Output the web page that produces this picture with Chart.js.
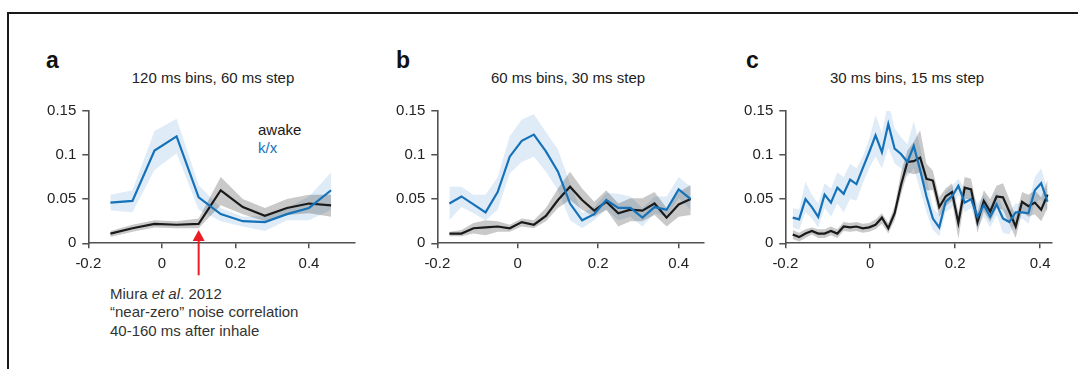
<!DOCTYPE html>
<html>
<head>
<meta charset="utf-8">
<script src="https://cdn.jsdelivr.net/npm/chart.js@4"></script>
<style>
  body { margin: 0; width: 1078px; height: 369px; background: #fff; position: relative; overflow: hidden;
         font-family: "Liberation Sans", Arial, sans-serif; color: #222; }
  .frame { position: absolute; left: 7px; top: 12px; width: 1080px; height: 370px;
           border-top: 2px solid #1a1a1a; border-left: 2px solid #1a1a1a; }
  canvas { position: absolute; top: 95px; }
  .txt { position: absolute; white-space: nowrap; font-size: 15px; line-height: 15px; }
  .letter { position: absolute; font-weight: bold; font-size: 23px; line-height: 23px; color: #111; }
  .ttl { position: absolute; width: 240px; text-align: center; font-size: 15px; line-height: 15px; top: 70px; }
  .note { position: absolute; left: 110px; top: 285px; font-size: 15px; line-height: 18.3px; color: #333; white-space: nowrap; }
</style>
</head>
<body>
<div class="frame"></div>

<div class="letter" style="left:46px; top:49px;">a</div>
<div class="letter" style="left:396px; top:49px;">b</div>
<div class="letter" style="left:746px; top:49px;">c</div>

<div class="ttl" style="left:93px;">120 ms bins, 60 ms step</div>
<div class="ttl" style="left:448px;">60 ms bins, 30 ms step</div>
<div class="ttl" style="left:787px;">30 ms bins, 15 ms step</div>

<div class="txt" style="left:258px; top:122px; color:#1a1a1a;">awake</div>
<div class="txt" style="left:258px; top:140px; color:#1572b9;">k/x</div>

<div class="note">Miura <i>et al</i>. 2012<br>“near-zero” noise correlation<br>40-160 ms after inhale</div>

<canvas id="chartA" width="345" height="200" style="left:20px"></canvas>
<canvas id="chartB" width="345" height="200" style="left:369px"></canvas>
<canvas id="chartC" width="345" height="200" style="left:716.7px"></canvas>

<script>
// axis ticks
const xTickVals = [-0.2, 0, 0.2, 0.4];
const yTickVals = [0, 0.05, 0.1, 0.15];

// a: 120 ms bins, 60 ms step
const timeA = [-0.14, -0.08, -0.02, 0.04, 0.10, 0.16, 0.22, 0.28, 0.34, 0.40, 0.46];
const kxA = [0.046, 0.048, 0.105, 0.121, 0.052, 0.033, 0.025, 0.024, 0.033, 0.040, 0.060];
const kxA_hi = [0.055, 0.060, 0.127, 0.141, 0.066, 0.040, 0.030, 0.031, 0.040, 0.053, 0.080];
const kxA_lo = [0.037, 0.035, 0.083, 0.102, 0.038, 0.025, 0.019, 0.014, 0.026, 0.026, 0.038];
const awakeA = [0.011, 0.017, 0.022, 0.021, 0.022, 0.060, 0.041, 0.031, 0.040, 0.045, 0.043];
const awakeA_hi = [0.014, 0.021, 0.026, 0.025, 0.028, 0.075, 0.050, 0.040, 0.050, 0.055, 0.055];
const awakeA_lo = [0.007, 0.013, 0.018, 0.017, 0.017, 0.043, 0.033, 0.025, 0.032, 0.034, 0.030];

// b: 60 ms bins, 30 ms step
const timeB = [-0.17, -0.14, -0.11, -0.08, -0.05, -0.02, 0.01, 0.04, 0.07, 0.10, 0.13,
               0.16, 0.19, 0.22, 0.25, 0.28, 0.31, 0.34, 0.37, 0.40, 0.43];
const kxB = [0.045, 0.053, 0.044, 0.035, 0.058, 0.098, 0.116, 0.123, 0.104, 0.081, 0.045,
             0.026, 0.033, 0.049, 0.040, 0.040, 0.029, 0.041, 0.038, 0.061, 0.050];
const kxB_hi = [0.064, 0.064, 0.055, 0.055, 0.075, 0.121, 0.140, 0.146, 0.126, 0.106, 0.068,
                0.034, 0.041, 0.057, 0.056, 0.053, 0.040, 0.053, 0.053, 0.075, 0.064];
const kxB_lo = [0.026, 0.041, 0.034, 0.026, 0.038, 0.079, 0.092, 0.098, 0.081, 0.060, 0.026,
                0.017, 0.026, 0.038, 0.026, 0.030, 0.019, 0.034, 0.030, 0.051, 0.038];
const awakeB = [0.011, 0.011, 0.017, 0.018, 0.019, 0.017, 0.024, 0.021, 0.031, 0.049, 0.064,
                0.049, 0.037, 0.047, 0.034, 0.038, 0.037, 0.045, 0.029, 0.044, 0.050];
const awakeB_hi = [0.013, 0.015, 0.023, 0.026, 0.025, 0.021, 0.028, 0.026, 0.040, 0.062, 0.081,
                   0.062, 0.047, 0.060, 0.045, 0.051, 0.051, 0.058, 0.040, 0.058, 0.066];
const awakeB_lo = [0.008, 0.008, 0.011, 0.009, 0.013, 0.013, 0.019, 0.017, 0.025, 0.040, 0.049,
                   0.038, 0.030, 0.038, 0.019, 0.025, 0.025, 0.032, 0.019, 0.030, 0.032];

// c: 30 ms bins, 15 ms step
const timeC = [-0.1825, -0.1675, -0.1525, -0.1375, -0.1225, -0.1075, -0.0925, -0.0775, -0.0625, -0.0475,
               -0.0325, -0.0175, -0.0025, 0.0125, 0.0275, 0.0425, 0.0575, 0.0725, 0.0875, 0.1025,
               0.1175, 0.1325, 0.1475, 0.1625, 0.1775, 0.1925, 0.2075, 0.2225, 0.2375, 0.2525,
               0.2675, 0.2825, 0.2975, 0.3125, 0.3275, 0.3425, 0.3575, 0.3725, 0.3875, 0.4025, 0.4175];
const kxC = [0.029, 0.027, 0.050, 0.041, 0.030, 0.055, 0.046, 0.063, 0.056, 0.072,
             0.067, 0.085, 0.103, 0.122, 0.103, 0.135, 0.107, 0.101, 0.092, 0.110,
             0.083, 0.053, 0.028, 0.018, 0.047, 0.053, 0.065, 0.046, 0.050, 0.030,
             0.043, 0.030, 0.044, 0.028, 0.024, 0.035, 0.035, 0.034, 0.060, 0.068, 0.047];
const kxC_hi = [0.040, 0.038, 0.070, 0.055, 0.045, 0.068, 0.062, 0.080, 0.075, 0.090,
                0.085, 0.098, 0.118, 0.145, 0.125, 0.160, 0.130, 0.120, 0.112, 0.138,
                0.108, 0.075, 0.040, 0.032, 0.058, 0.065, 0.073, 0.062, 0.062, 0.045,
                0.055, 0.042, 0.058, 0.040, 0.036, 0.045, 0.045, 0.045, 0.075, 0.085, 0.060];
const kxC_lo = [0.018, 0.015, 0.035, 0.028, 0.018, 0.040, 0.030, 0.045, 0.035, 0.050,
                0.048, 0.068, 0.085, 0.098, 0.085, 0.108, 0.090, 0.085, 0.075, 0.085,
                0.060, 0.035, 0.015, 0.008, 0.035, 0.040, 0.055, 0.035, 0.040, 0.018,
                0.030, 0.018, 0.032, 0.012, 0.010, 0.025, 0.028, 0.022, 0.045, 0.050, 0.035];
const awakeC = [0.010, 0.007, 0.011, 0.014, 0.011, 0.011, 0.014, 0.011, 0.019, 0.018,
                0.019, 0.017, 0.018, 0.021, 0.029, 0.017, 0.034, 0.066, 0.092, 0.093,
                0.097, 0.073, 0.071, 0.041, 0.053, 0.058, 0.023, 0.063, 0.061, 0.024,
                0.048, 0.036, 0.053, 0.052, 0.036, 0.019, 0.047, 0.042, 0.046, 0.038, 0.055];
const awakeC_hi = [0.015, 0.012, 0.016, 0.018, 0.016, 0.016, 0.019, 0.016, 0.024, 0.023,
                   0.024, 0.022, 0.023, 0.027, 0.034, 0.023, 0.042, 0.080, 0.105, 0.115,
                   0.128, 0.090, 0.082, 0.052, 0.062, 0.068, 0.035, 0.075, 0.073, 0.036,
                   0.060, 0.050, 0.065, 0.068, 0.050, 0.030, 0.058, 0.055, 0.060, 0.052, 0.072];
const awakeC_lo = [0.005, 0.002, 0.006, 0.010, 0.006, 0.006, 0.009, 0.006, 0.014, 0.013,
                   0.014, 0.012, 0.013, 0.016, 0.022, 0.011, 0.026, 0.055, 0.080, 0.078,
                   0.080, 0.060, 0.060, 0.030, 0.042, 0.048, 0.005, 0.050, 0.050, 0.012,
                   0.036, 0.024, 0.040, 0.038, 0.022, 0.006, 0.036, 0.030, 0.033, 0.025, 0.040];

// red arrow in panel a (Miura et al. window)
const arrowX = 0.10;
const arrowTipY = 0.015;

const BLUE = '#1572b9';
const BLACK = '#1a1a1a';
const AXIS = '#505050';
const FONT = { family: '"Liberation Sans", Arial, sans-serif', size: 15 };

Chart.defaults.font.family = FONT.family;
Chart.defaults.color = '#222';

function pts(xs, ys) {
  return xs.map((x, i) => ({ x: x, y: ys[i] }));
}

const arrowPlugin = {
  id: 'arrow',
  afterDraw(chart) {
    const c = chart.ctx;
    const x = chart.scales.x.getPixelForValue(arrowX);
    const yTip = chart.scales.y.getPixelForValue(arrowTipY);
    const yEnd = chart.chartArea.bottom + 32;
    c.save();
    c.strokeStyle = '#ec1c24';
    c.fillStyle = '#ec1c24';
    c.lineWidth = 2;
    c.beginPath();
    c.moveTo(x, yTip + 8);
    c.lineTo(x, yEnd);
    c.stroke();
    c.beginPath();
    c.moveTo(x, yTip);
    c.lineTo(x - 6, yTip + 11);
    c.lineTo(x + 6, yTip + 11);
    c.closePath();
    c.fill();
    c.restore();
  }
};

function panel(id, t, kx, kxHi, kxLo, aw, awHi, awLo, xMax, plugins) {
  return new Chart(document.getElementById(id), {
    type: 'line',
    data: {
      datasets: [
        { data: pts(t, kx), borderColor: BLUE, borderWidth: 2.2, pointRadius: 0, fill: false, order: 0 },
        { data: pts(t, aw), borderColor: BLACK, borderWidth: 2.2, pointRadius: 0, fill: false, order: 1 },
        { data: pts(t, awHi), borderWidth: 0, pointRadius: 0, fill: '+1', backgroundColor: 'rgba(0,0,0,0.21)', order: 2 },
        { data: pts(t, awLo), borderWidth: 0, pointRadius: 0, fill: false, order: 2 },
        { data: pts(t, kxHi), borderWidth: 0, pointRadius: 0, fill: '+1', backgroundColor: 'rgba(30,120,200,0.14)', order: 3 },
        { data: pts(t, kxLo), borderWidth: 0, pointRadius: 0, fill: false, order: 3 }
      ]
    },
    options: {
      responsive: false,
      animation: false,
      devicePixelRatio: 1,
      layout: { padding: { left: 8.3, top: 15.7, right: 10, bottom: 11.7 } },
      plugins: { legend: { display: false }, tooltip: { enabled: false } },
      elements: { line: { tension: 0 } },
      scales: {
        x: {
          type: 'linear',
          min: -0.2,
          max: xMax,
          afterBuildTicks: s => { s.ticks = xTickVals.map(v => ({ value: v })); },
          afterFit: s => { s.height = 40; },
          grid: { drawOnChartArea: false, drawTicks: true, tickLength: 5, color: AXIS, lineWidth: 1.5 },
          border: { display: true, color: AXIS, width: 1.6 },
          ticks: { font: FONT, color: '#222', padding: 7, maxRotation: 0, callback: v => String(v) }
        },
        y: {
          min: 0,
          max: 0.15,
          afterBuildTicks: s => { s.ticks = yTickVals.map(v => ({ value: v })); },
          afterFit: s => { s.width = 60; },
          grid: { drawOnChartArea: false, drawTicks: true, tickLength: 6, color: AXIS, lineWidth: 1.5 },
          border: { display: true, color: AXIS, width: 1.6 },
          ticks: { font: FONT, color: '#222', padding: 6, callback: v => String(v) }
        }
      }
    },
    plugins: plugins || []
  });
}

panel('chartA', timeA, kxA, kxA_hi, kxA_lo, awakeA, awakeA_hi, awakeA_lo, 0.525, [arrowPlugin]);
panel('chartB', timeB, kxB, kxB_hi, kxB_lo, awakeB, awakeB_hi, awakeB_lo, 0.463);
panel('chartC', timeC, kxC, kxC_hi, kxC_lo, awakeC, awakeC_hi, awakeC_lo, 0.428);
</script>
</body>
</html>
